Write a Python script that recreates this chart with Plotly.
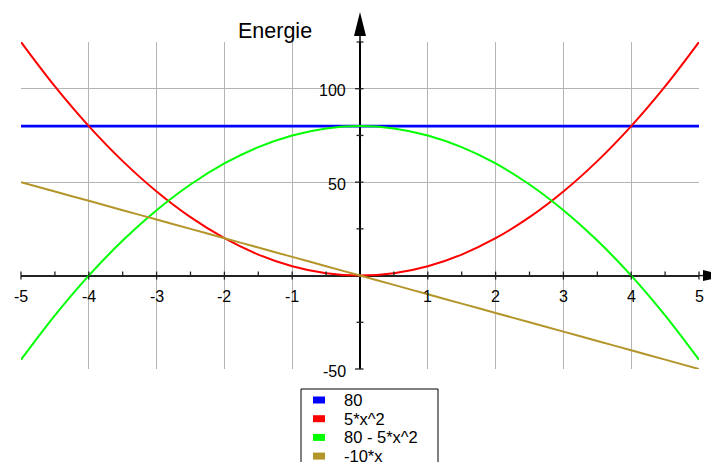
import plotly.graph_objects as go

# ---------------- data ----------------
x_vals = [-5, -4.5, -4, -3.5, -3, -2.5, -2, -1.5, -1, -0.5, 0,
          0.5, 1, 1.5, 2, 2.5, 3, 3.5, 4, 4.5, 5]
s_const = [80, 80, 80, 80, 80, 80, 80, 80, 80, 80, 80,
           80, 80, 80, 80, 80, 80, 80, 80, 80, 80]
s_kin = [125, 101.25, 80, 61.25, 45, 31.25, 20, 11.25, 5, 1.25, 0,
         1.25, 5, 11.25, 20, 31.25, 45, 61.25, 80, 101.25, 125]
s_pot = [-45, -21.25, 0, 18.75, 35, 48.75, 60, 68.75, 75, 78.75, 80,
         78.75, 75, 68.75, 60, 48.75, 35, 18.75, 0, -21.25, -45]
s_lin = [50, 45, 40, 35, 30, 25, 20, 15, 10, 5, 0,
         -5, -10, -15, -20, -25, -30, -35, -40, -45, -50]

series_names = ["80", "5*x^2", "80 - 5*x^2", "-10*x"]
series_colors = ["#0000ff", "#ff0000", "#00ff00", "#b4952a"]
series_widths = [2.8, 2, 2, 2]
series_values = [s_const, s_kin, s_pot, s_lin]

x_tick_vals = [-5, -4, -3, -2, -1, 1, 2, 3, 4, 5]
x_tick_text = ["-5", "-4", "-3", "-2", "-1", "1", "2", "3", "4", "5"]
x_minor_vals = [-4.5, -3.5, -2.5, -1.5, -0.5, 0.5, 1.5, 2.5, 3.5, 4.5]
y_tick_vals = [100, 50, -50]
y_tick_text = ["100", "50", "-50"]
y_minor_vals = [75, 25, -25, 125]

X_RANGE = [-5, 5]
Y_RANGE = [-50, 125]

FONT = "Liberation Sans, Arial, sans-serif"
OFF = 8                      # page body margin
W, H = 719 - OFF, 462 - OFF
ML, MR, MT, MB = 13, 20, 34, 93
PW = W - ML - MR             # 678
PH = H - MT - MB             # 327
PAGE_L = ML + OFF            # 21
PAGE_B = MT + PH + OFF       # 369


def px(v):
    return (v - X_RANGE[0]) / (X_RANGE[1] - X_RANGE[0])


def py(v):
    return (v - Y_RANGE[0]) / (Y_RANGE[1] - Y_RANGE[0])


def page_x(p):
    return (p - PAGE_L) / PW


def page_y(p):
    return (PAGE_B - p) / PH


fig = go.Figure()
for name, col, wd, vals in zip(series_names, series_colors, series_widths, series_values):
    fig.add_trace(go.Scatter(
        x=x_vals, y=vals, mode="lines", name=name,
        line=dict(color=col, width=wd, shape="spline", smoothing=1.0),
        showlegend=False, hoverinfo="skip"))

shapes = []
annotations = []

# axis ticks
for v in x_tick_vals:
    shapes.append(dict(type="line", xref="paper", yref="paper",
                       x0=px(v), x1=px(v), ysizemode="pixel", yanchor=py(0),
                       y0=-4, y1=4, line=dict(color="#222", width=1.3)))
for v in x_minor_vals:
    shapes.append(dict(type="line", xref="paper", yref="paper",
                       x0=px(v), x1=px(v), ysizemode="pixel", yanchor=py(0),
                       y0=0, y1=4, line=dict(color="#222", width=1.3)))
for v in y_tick_vals:
    shapes.append(dict(type="line", xref="paper", yref="paper",
                       y0=py(v), y1=py(v), xsizemode="pixel", xanchor=px(0),
                       x0=-5, x1=3.5, line=dict(color="#222", width=1.3)))
for v in y_minor_vals:
    shapes.append(dict(type="line", xref="paper", yref="paper",
                       y0=py(v), y1=py(v), xsizemode="pixel", xanchor=px(0),
                       x0=-3.5, x1=3.5, line=dict(color="#222", width=1.3)))

# arrows
shapes.append(dict(type="line", xref="paper", yref="paper",
                   x0=px(0), x1=px(0), ysizemode="pixel", yanchor=1,
                   y0=0, y1=8, line=dict(color="#000", width=1.5)))
shapes.append(dict(type="path", xref="paper", yref="paper",
                   xsizemode="pixel", ysizemode="pixel", xanchor=px(0), yanchor=1,
                   path="M -6,6 L 6,6 L 0,30 Z", fillcolor="#000",
                   line=dict(width=0)))
shapes.append(dict(type="line", xref="paper", yref="paper",
                   y0=py(0), y1=py(0), xsizemode="pixel", xanchor=1,
                   x0=0, x1=6, line=dict(color="#222", width=1.5)))
shapes.append(dict(type="path", xref="paper", yref="paper",
                   xsizemode="pixel", ysizemode="pixel", xanchor=1, yanchor=py(0),
                   path="M 4,-5.5 L 4,5.5 L 28,0 Z", fillcolor="#000",
                   line=dict(width=0)))

# tick labels
for v, t in zip(x_tick_vals, x_tick_text):
    annotations.append(dict(x=v, y=0, xref="x", yref="y", text=t,
                            showarrow=False, xanchor="center", yanchor="middle",
                            yshift=-21, font=dict(family=FONT, size=16, color="#000")))
for v, t in zip(y_tick_vals, y_tick_text):
    annotations.append(dict(x=0, y=v, xref="x", yref="y", text=t,
                            showarrow=False, xanchor="right", yanchor="middle",
                            xshift=-12, yshift=-2, font=dict(family=FONT, size=16, color="#000")))

# axis titles
annotations.append(dict(x=page_x(314), y=page_y(31), xref="paper", yref="paper",
                        text="Energie", showarrow=False, xanchor="right", yanchor="middle",
                        font=dict(family=FONT, size=21.5, color="#000")))
annotations.append(dict(x=page_x(709), y=page_y(313), xref="paper", yref="paper",
                        text="x", showarrow=False, xanchor="left", yanchor="middle",
                        font=dict(family=FONT, size=20, color="#000")))

# legend (custom box below the plot)
shapes.append(dict(type="rect", xref="paper", yref="paper",
                   x0=page_x(301), x1=page_x(438), y0=page_y(389), y1=page_y(480),
                   line=dict(color="#000", width=1), fillcolor="rgba(0,0,0,0)"))
for i, (name, col) in enumerate(zip(series_names, series_colors)):
    cy = 400 + i * 18.7
    shapes.append(dict(type="rect", xref="paper", yref="paper",
                       x0=page_x(313), x1=page_x(325),
                       y0=page_y(cy - 3.5), y1=page_y(cy + 3.5),
                       line=dict(width=0), fillcolor=col))
    annotations.append(dict(x=page_x(342), y=page_y(cy),
                            xref="paper", yref="paper", text=name, showarrow=False,
                            xanchor="left", yanchor="middle",
                            font=dict(family=FONT, size=16.5, color="#000")))

fig.update_layout(
    width=W, height=H, autosize=False,
    margin=dict(l=ML, r=MR, t=MT, b=MB, pad=0),
    paper_bgcolor="white", plot_bgcolor="white",
    showlegend=False,
    xaxis=dict(range=X_RANGE, tickmode="linear", tick0=0, dtick=1,
               showgrid=True, gridcolor="#b4b4b4", gridwidth=1,
               zeroline=True, zerolinecolor="#000", zerolinewidth=1.5,
               showticklabels=False, ticks="", showline=False, fixedrange=True),
    yaxis=dict(range=Y_RANGE, tickmode="array", tickvals=y_tick_vals,
               showgrid=True, gridcolor="#b4b4b4", gridwidth=1,
               zeroline=True, zerolinecolor="#222", zerolinewidth=1.5,
               showticklabels=False, ticks="", showline=False, fixedrange=True),
    shapes=shapes, annotations=annotations,
)

fig.write_html("out.html")
